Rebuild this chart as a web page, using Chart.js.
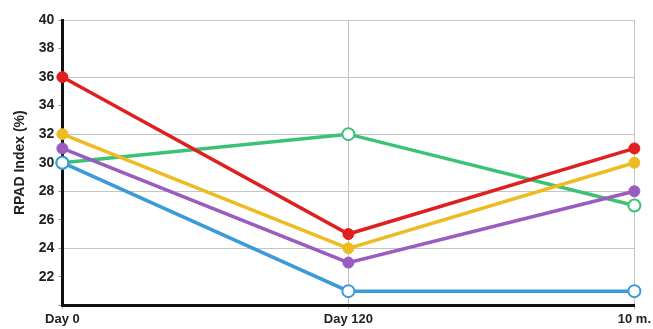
<!DOCTYPE html>
<html lang="en">
<head>
<meta charset="UTF-8">
<title>RPAD Index</title>
<script src="https://cdn.jsdelivr.net/npm/chart.js@4.4.0/dist/chart.umd.min.js"></script>
<style>
    body { margin: 0; background: #fff; }
    .wrap { width: 653px; height: 329px; }
</style>
</head>
<body>
<div class="wrap"><canvas id="myChart"></canvas></div>
<script>
    const labels = ['Day 0', 'Day 120', '10 m.'];
    const redValues = [36, 25, 31];
    const yellowValues = [32, 24, 30];
    const purpleValues = [31, 23, 28];
    const blueValues = [30, 21, 21];
    const greenValues = [30, 32, 27];

    function series(data, color, open) {
        return {
            data: data,
            borderColor: color,
            backgroundColor: color,
            pointBackgroundColor: open ? '#ffffff' : color,
            pointBorderColor: color,
            pointBorderWidth: open ? 2 : 1,
            pointRadius: open ? 6 : 5.5,
            borderWidth: 3.5,
            tension: 0
        };
    }

    const tickFont = { family: 'Arial, "Liberation Sans", sans-serif', size: 14, weight: 'bold' };

    new Chart(document.getElementById('myChart'), {
        type: 'line',
        data: {
            labels: labels,
            datasets: [
                series(blueValues, '#3a9bd8', true),
                series(purpleValues, '#9b5cc0', false),
                series(yellowValues, '#edbb22', false),
                series(redValues, '#e01f1f', false),
                series(greenValues, '#3cc275', true)
            ]
        },
        options: {
            responsive: true,
            maintainAspectRatio: false,
            animation: false,
            layout: { padding: { top: 20, right: 4, left: 12, bottom: 0 } },
            plugins: { legend: { display: false }, tooltip: { enabled: false } },
            scales: {
                x: {
                    offset: false,
                    border: { color: '#111', width: 3 },
                    grid: { color: '#c4c4c4', tickLength: 4, tickColor: '#c4c4c4' },
                    ticks: { color: '#222', font: { ...tickFont, size: 13 }, padding: 2, maxRotation: 0 }
                },
                y: {
                    min: 20,
                    max: 40,
                    border: { color: '#111', width: 3 },
                    grid: {
                        color: c => (c.tick && c.tick.value % 4 === 0 && c.tick.value !== 20) ? '#c4c4c4' : 'rgba(0,0,0,0)',
                        tickColor: '#999',
                        tickLength: 4
                    },
                    ticks: {
                        stepSize: 2,
                        color: '#222',
                        font: tickFont,
                        padding: 4,
                        callback: v => v === 20 ? '' : v
                    },
                    title: {
                        display: true,
                        text: 'RPAD Index (%)',
                        color: '#222',
                        font: { family: 'Arial, "Liberation Sans", sans-serif', size: 14, weight: 'bold' },
                        padding: { top: 0, bottom: 6 }
                    }
                }
            }
        }
    });
</script>
</body>
</html>
